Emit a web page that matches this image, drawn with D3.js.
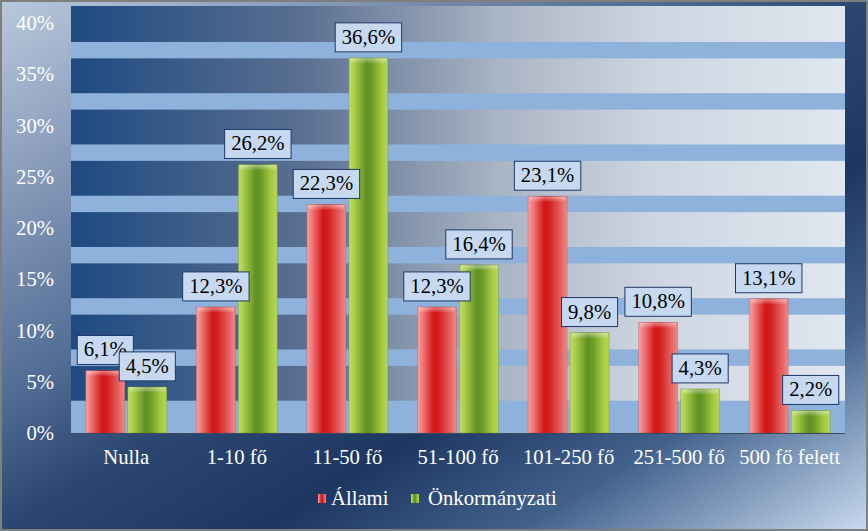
<!DOCTYPE html>
<html><head><meta charset="utf-8">
<script src="https://cdn.jsdelivr.net/npm/d3@7"></script>
<style>html,body{margin:0;padding:0;background:#fff;} svg{display:block;}</style>
</head><body>
<script>
const categories = ["Nulla","1-10 fő","11-50 fő","51-100 fő","101-250 fő","251-500 fő","500 fő felett"];
const allami = [6.1,12.3,22.3,12.3,23.1,10.8,13.1];
const onkormanyzati = [4.5,26.2,36.6,16.4,9.8,4.3,2.2];
const yTicks = [0,5,10,15,20,25,30,35,40];
const seriesNames = ["Állami","Önkormányzati"];

const W = 868, H = 531;
const plot = {left: 71, right: 845, top: 6, bottom: 433};
const FONT = "'Liberation Serif'";
const FS = "20.7px";

const svg = d3.select("body").append("svg").attr("width", W).attr("height", H);
const defs = svg.append("defs");
function txt(sel){ return sel.style("font-family", FONT).style("font-size", FS); }

// outer background gradient
const og = defs.append("linearGradient").attr("id","outerG").attr("x1",0).attr("y1",0).attr("x2",1).attr("y2",1);
[[0,"#b9c9dd"],[0.2,"#8396b6"],[0.38,"#506c94"],[0.5,"#2b4771"],[0.65,"#1d3761"],[0.8,"#42628d"],[1,"#cadbf0"]]
  .forEach(([o,c]) => og.append("stop").attr("offset",o).attr("stop-color",c));

// plot dark band gradient
const pg = defs.append("linearGradient").attr("id","plotG").attr("x1",0).attr("y1",0).attr("x2",1).attr("y2",0);
[[0,"#1e4a81"],[0.3,"#5a6f91"],[0.55,"#a9b4c4"],[0.75,"#cdd5e0"],[1,"#dfe7f1"]]
  .forEach(([o,c]) => pg.append("stop").attr("offset",o).attr("stop-color",c));

// bar gradients
function barGrad(id, stops){
  const g = defs.append("linearGradient").attr("id",id).attr("x1",0).attr("y1",0).attr("x2",1).attr("y2",0);
  stops.forEach(([o,c]) => g.append("stop").attr("offset",o).attr("stop-color",c));
}
barGrad("redG", [[0,"#f7a3a3"],[0.12,"#f27b7b"],[0.42,"#d01515"],[0.55,"#d42020"],[0.85,"#e86464"],[1,"#ee8a8a"]]);
barGrad("greenG", [[0,"#c2dc6a"],[0.12,"#acd04a"],[0.45,"#5f8f22"],[0.58,"#6c9a28"],[0.85,"#a6cc42"],[1,"#b4d658"]]);
const capG = defs.append("linearGradient").attr("id","capG").attr("x1",0).attr("y1",0).attr("x2",0).attr("y2",1);
capG.append("stop").attr("offset",0).attr("stop-color","#fff").attr("stop-opacity",0.45);
capG.append("stop").attr("offset",1).attr("stop-color","#fff").attr("stop-opacity",0.05);

// background
svg.append("rect").attr("x",0).attr("y",0).attr("width",W).attr("height",H).attr("fill","url(#outerG)");
svg.append("rect").attr("x",1).attr("y",1).attr("width",W-2).attr("height",H-2)
  .attr("fill","none").attr("stroke","#7f7f7f").attr("stroke-width",2);

const x = d3.scaleBand().domain(categories).range([plot.left, plot.right]).paddingInner(0).paddingOuter(0);
const y = d3.scaleLinear().domain([0,40]).range([plot.bottom, 23]);

// plot area
svg.append("rect").attr("x",plot.left).attr("y",plot.top).attr("width",plot.right-plot.left)
  .attr("height",plot.bottom-plot.top).attr("fill","url(#plotG)");
// light stripes
const stripes = d3.range(0,8).map(k => ({lo: k===0 ? 0 : 5*k+1.55, hi: 5*k+3.15}));
svg.append("g").selectAll("rect").data(stripes).join("rect")
  .attr("x",plot.left).attr("width",plot.right-plot.left)
  .attr("y",d => y(d.hi)).attr("height",d => y(d.lo)-y(d.hi))
  .attr("fill","#8fb2dc");

// bars
const bw = 39, gap = 3, groupW = 2*bw+gap;
const off = (x.bandwidth()-groupW)/2;
const series = [
  {name: seriesNames[0], values: allami, grad: "redG", dx: off, stroke:"#a04040"},
  {name: seriesNames[1], values: onkormanyzati, grad: "greenG", dx: off+bw+gap, stroke:"#587a20"}
];
series.forEach(s => {
  const g = svg.append("g");
  const data = categories.map((c,i) => ({c, v: s.values[i]}));
  g.selectAll("rect.bar").data(data).join("rect").attr("class","bar")
    .attr("x",d => x(d.c)+s.dx).attr("width",bw)
    .attr("y",d => y(d.v)).attr("height",d => y(0)-y(d.v))
    .attr("fill","url(#"+s.grad+")").attr("stroke",s.stroke).attr("stroke-opacity",0.35).attr("stroke-width",0.8);
  g.selectAll("rect.cap").data(data).join("rect").attr("class","cap")
    .attr("x",d => x(d.c)+s.dx+1.5).attr("width",bw-3)
    .attr("y",d => y(d.v)+0.5).attr("height",5)
    .attr("fill","url(#capG)");
});

// axis line
svg.append("line").attr("x1",plot.left).attr("x2",plot.right).attr("y1",plot.bottom+0.5).attr("y2",plot.bottom+0.5)
  .attr("stroke","#3d4b5e").attr("stroke-width",1.2);

// y axis labels
txt(svg.append("g").selectAll("text").data(yTicks).join("text"))
  .attr("x",54).attr("y",d => y(d)+7).attr("text-anchor","end")
  .attr("fill","#fff")
  .text(d => d + "%");

// category labels
txt(svg.append("g").selectAll("text").data(categories).join("text"))
  .attr("x",d => x(d)+x.bandwidth()/2).attr("y",464).attr("text-anchor","middle")
  .attr("fill","#fff")
  .text(d => d);

// data labels
const fmt = v => v.toFixed(1).replace(".", ",") + "%";
series.forEach(s => {
  categories.forEach((c,i) => {
    const v = s.values[i];
    const cx = x(c)+s.dx+bw/2;
    const g = svg.append("g");
    const t = txt(g.append("text")).attr("x",cx).attr("text-anchor","middle")
      .attr("fill","#000").text(fmt(v));
    const tw = t.node().getComputedTextLength();
    const bh = 29, bottom = y(v)-6;
    t.attr("y", bottom-8);
    g.insert("rect","text").attr("x",cx-tw/2-6.5).attr("y",bottom-bh).attr("width",tw+13).attr("height",bh)
      .attr("fill","#c6d9f1").attr("stroke","#1f3864").attr("stroke-width",1);
  });
});

// legend
const leg = [{name: seriesNames[0], grad:"redG", sx:318, tx:331},{name: seriesNames[1], grad:"greenG", sx:411, tx:428}];
const lg = svg.append("g");
leg.forEach(l => {
  lg.append("rect").attr("x",l.sx).attr("y",494).attr("width",8).attr("height",9).attr("fill","url(#"+l.grad+")");
  txt(lg.append("text")).attr("x",l.tx).attr("y",505).attr("fill","#fff").text(l.name);
});
</script>
</body></html>
